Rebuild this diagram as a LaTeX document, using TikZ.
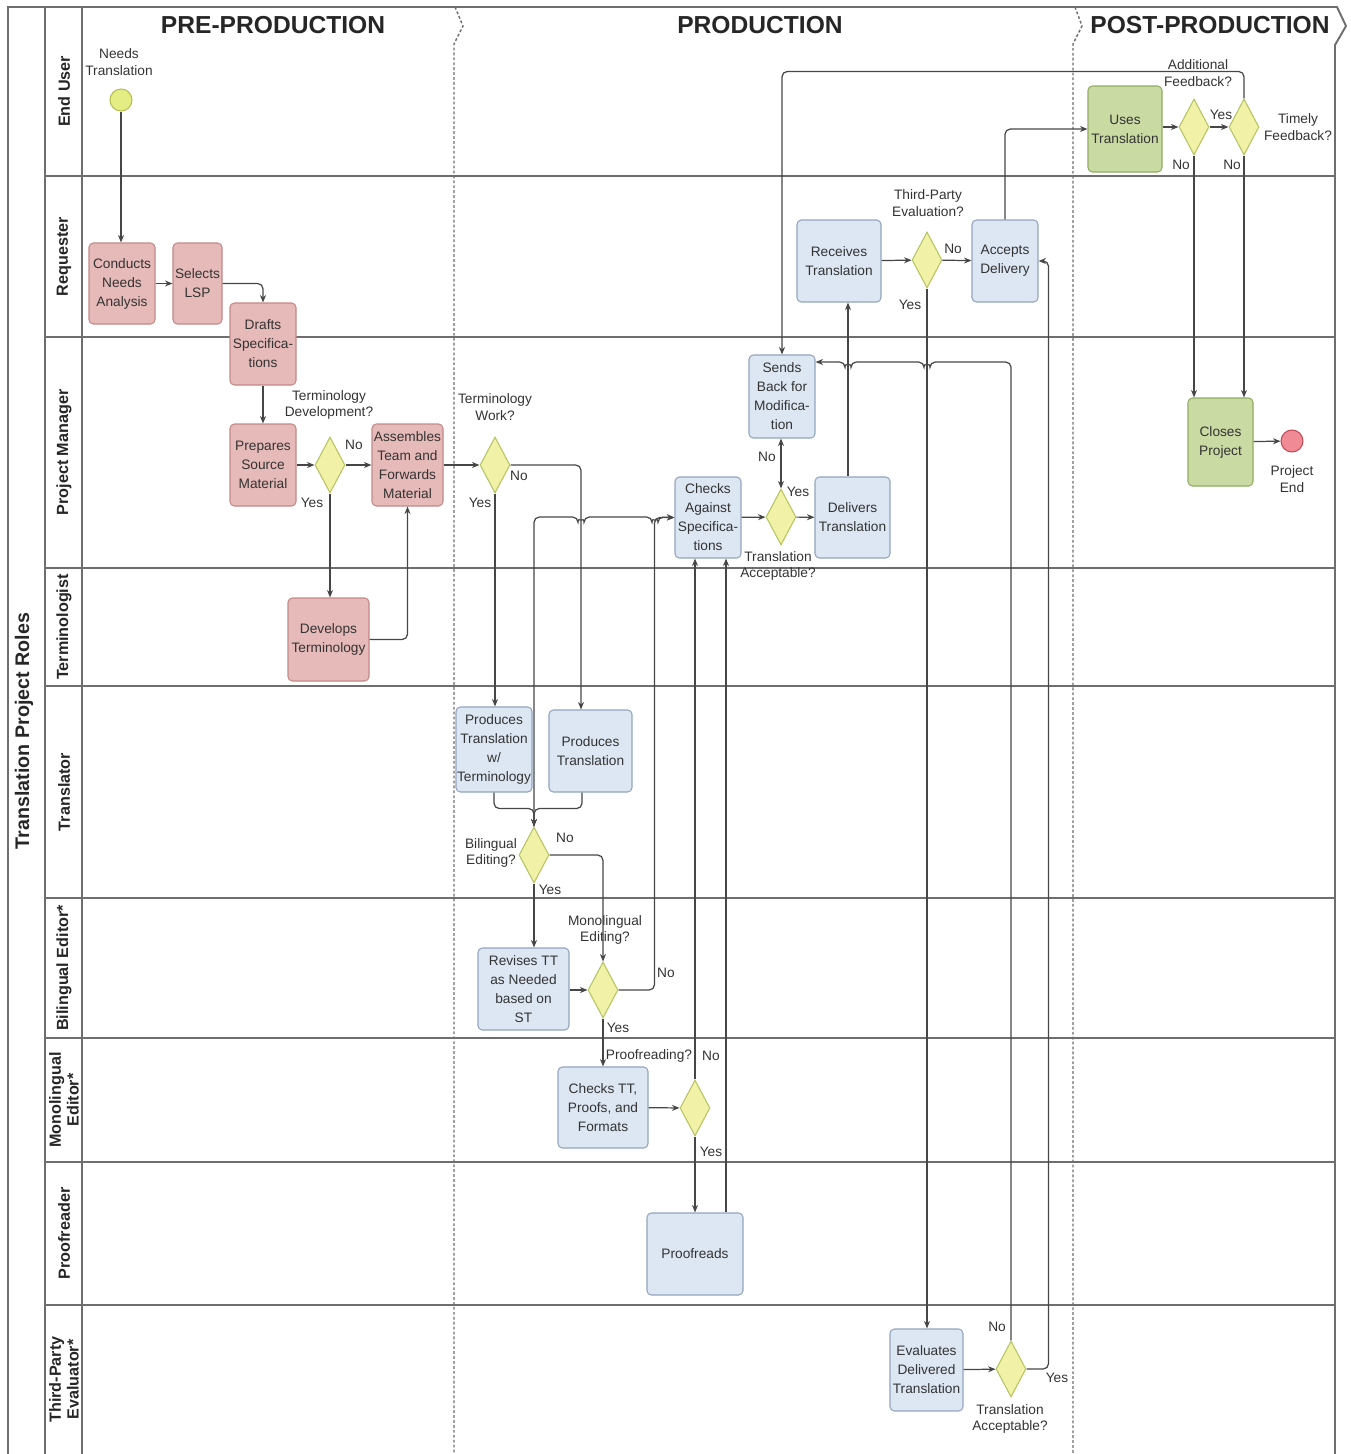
\documentclass[tikz,border=0pt]{standalone}
\usepackage{fontspec}
\setmainfont{Liberation Sans}
\usepackage{xcolor}
\usetikzlibrary{shapes.geometric,arrows.meta}
\definecolor{pinkfill}{RGB}{230,186,185}
\definecolor{pinkline}{RGB}{196,136,136}
\definecolor{bluefill}{RGB}{221,231,243}
\definecolor{blueline}{RGB}{146,164,188}
\definecolor{greenfill}{RGB}{202,218,163}
\definecolor{greenline}{RGB}{146,172,100}
\definecolor{decfill}{RGB}{241,241,168}
\definecolor{decline}{RGB}{182,196,96}
\definecolor{startfill}{RGB}{228,236,132}
\definecolor{startline}{RGB}{180,190,80}
\definecolor{endfill}{RGB}{240,138,148}
\definecolor{endline}{RGB}{192,76,90}
\definecolor{wire}{RGB}{70,70,70}
\definecolor{lanegray}{RGB}{110,110,110}
\tikzset{
  task/.style={draw, rounded corners=2.5pt, line width=0.6pt, align=center,
               inner sep=0.5pt, font=\fontsize{7.8}{10.8}\selectfont, text=black!80},
  prebox/.style={task, fill=pinkfill, draw=pinkline},
  prodbox/.style={task, fill=bluefill, draw=blueline},
  postbox/.style={task, fill=greenfill, draw=greenline},
  sz/.style 2 args={minimum width=#1*0.02cm, minimum height=#2*0.02cm},
  dec/.style={diamond, draw=decline, fill=decfill, line width=0.6pt, inner sep=0pt,
              minimum width=0.6cm, minimum height=1.12cm},
  event/.style={circle, line width=0.6pt, minimum size=0.44cm, inner sep=0pt},
  flow/.style={-{Stealth[length=1.5mm,width=1.2mm]}, draw=wire, line width=0.7pt,
               rounded corners=3pt},
  twoway/.style={flow, {Stealth[length=1.5mm,width=1.2mm]}-{Stealth[length=1.5mm,width=1.2mm]}},
  lbl/.style={font=\fontsize{7.8}{9.6}\selectfont, align=center, text=black!80, inner sep=0pt},
  phasehead/.style={font=\fontsize{14}{16}\selectfont\bfseries, text=black!85},
  rolelbl/.style={font=\fontsize{9.2}{10.2}\selectfont\bfseries, rotate=90, align=center,
                  text=black!85},
  laneline/.style={draw=lanegray, line width=1.1pt},
  phaseline/.style={draw=lanegray, line width=0.8pt, dash pattern=on 1.6pt off 1.2pt},
}

\begin{document}
\begin{tikzpicture}[x=0.02cm, y=-0.02cm]
  \useasboundingbox (0,0) rectangle (1350,1454);

  % Pool frame and lanes
  \draw[laneline] (8,1454) -- (8,7) -- (1337,7) -- (1346,26) -- (1335,45) -- (1335,1454);
  \draw[laneline] (45,7) -- (45,1454);
  \draw[laneline] (82,7) -- (82,1454);
  \foreach \y in {176,337,568,686,898,1038,1162,1305}
    \draw[laneline] (45,\y) -- (1335,\y);

  % Phase separators
  \draw[phaseline] (455,7) -- (463,26) -- (454,44) -- (454,1454);
  \draw[phaseline] (1075,7) -- (1082,26) -- (1073,44) -- (1073,1454);

  \node[phasehead] (hpre)  at (273,25)  {PRE-PRODUCTION};
  \node[phasehead] (hprod) at (760,25)  {PRODUCTION};
  \node[phasehead] (hpost) at (1210,25) {POST-PRODUCTION};

  % Roles
  \node[rolelbl, font=\fontsize{11.2}{12}\selectfont\bfseries] (roles) at (24,731) {Translation Project Roles};
  \node[rolelbl] (rend)  at (64,91.5)  {End User};
  \node[rolelbl] (rreq)  at (64,256.5) {Requester};
  \node[rolelbl] (rpm)   at (64,452.5) {Project Manager};
  \node[rolelbl] (rterm) at (64,627)   {Terminologist};
  \node[rolelbl] (rtra)  at (64,792)   {Translator};
  \node[rolelbl] (rbil)  at (64,968)   {Bilingual Editor*};
  \node[rolelbl] (rmon)  at (64,1100)  {Monolingual\\Editor*};
  \node[rolelbl] (rprf)  at (64,1233.5){Proofreader};
  \node[rolelbl] (reva)  at (64,1379.5){Third-Party\\Evaluator*};

  % Pre-production
  \node[event, draw=startline, fill=startfill] (start) at (121,100) {};
  \node[lbl] (startlbl) at (119,62) {Needs\\Translation};
  \node[prebox, sz={66}{81}] (cna) at (122,283.5)   {Conducts\\Needs\\Analysis};
  \node[prebox, sz={49}{81}] (lsp) at (197.5,283.5) {Selects\\LSP};
  \node[prebox, sz={66}{82}] (dsp) at (263,344)     {Drafts\\Specifica-\\tions};
  \node[prebox, sz={66}{82}] (psm) at (263,465)     {Prepares\\Source\\Material};
  \node[dec] (tdq) at (330,465) {};
  \node[lbl] (tdqlbl) at (329,405) {Terminology\\Development?};
  \node[prebox, sz={71}{82}] (atf) at (407.5,465)   {Assembles\\Team and\\Forwards\\Material};
  \node[prebox, sz={81}{83}] (dvt) at (328.5,639.5) {Develops\\Terminology};

  % Production
  \node[dec] (twq) at (495,465) {};
  \node[lbl] (twqlbl) at (495,407) {Terminology\\Work?};
  \node[prodbox, sz={76}{85}] (ptt) at (494,749.5)  {Produces\\Translation\\w/\\Terminology};
  \node[prodbox, sz={83}{82}] (ptr) at (590.5,751)  {Produces\\Translation};
  \node[dec] (beq) at (534,855) {};
  \node[lbl] (beqlbl) at (491,853) {Bilingual\\Editing?};
  \node[prodbox, sz={91}{82}] (rtt) at (523.5,989)  {Revises TT\\as Needed\\based on\\ST};
  \node[dec] (meq) at (603,990) {};
  \node[lbl] (meqlbl) at (605,930) {Monolingual\\Editing?};
  \node[prodbox, sz={90}{81}] (ctp) at (603,1107.5) {Checks TT,\\Proofs, and\\Formats};
  \node[dec] (prq) at (695,1108) {};
  \node[lbl] (prqlbl) at (649,1056) {Proofreading?};
  \node[prodbox, sz={96}{82}] (prf) at (695,1254)   {Proofreads};
  \node[prodbox, sz={66}{81}] (cas) at (708,517.5)  {Checks\\Against\\Specifica-\\tions};
  \node[dec] (taq) at (781,517) {};
  \node[lbl] (taqlbl) at (778,566) {Translation\\Acceptable?};
  \node[prodbox, sz={75}{81}] (dlt) at (852.5,517.5) {Delivers\\Translation};
  \node[prodbox, sz={66}{83}] (sbm) at (782,396.5)  {Sends\\Back for\\Modifica-\\tion};
  \node[prodbox, sz={84}{82}] (rct) at (839,261)    {Receives\\Translation};
  \node[dec] (tpq) at (927,260) {};
  \node[lbl] (tpqlbl) at (928,203) {Third-Party\\Evaluation?};
  \node[prodbox, sz={66}{82}] (acd) at (1005,261)   {Accepts\\Delivery};
  \node[prodbox, sz={73}{82}] (edt) at (926.5,1370) {Evaluates\\Delivered\\Translation};
  \node[dec] (tpa) at (1011,1369) {};
  \node[lbl] (tpalbl) at (1010,1419) {Translation\\Acceptable?};

  % Post-production
  \node[postbox, sz={74}{86}] (ust) at (1125,129)   {Uses\\Translation};
  \node[dec] (afq) at (1194,127) {};
  \node[lbl] (afqlbl) at (1198,73) {Additional\\Feedback?};
  \node[dec] (tfq) at (1244,127) {};
  \node[lbl] (tfqlbl) at (1298,127) {Timely\\Feedback?};
  \node[postbox, sz={65}{88}] (clp) at (1220.5,442) {Closes\\Project};
  \node[event, draw=endline, fill=endfill] (fin) at (1292,441) {};
  \node[lbl] (finlbl) at (1292,479) {Project\\End};

  % Yes / No
  \node[lbl] (l1)  at (354,445)  {No};
  \node[lbl] (l2)  at (312,503)  {Yes};
  \node[lbl] (l3)  at (519,476)  {No};
  \node[lbl] (l4)  at (480,503)  {Yes};
  \node[lbl] (l5)  at (565,838)  {No};
  \node[lbl] (l6)  at (550,890)  {Yes};
  \node[lbl] (l7)  at (666,973)  {No};
  \node[lbl] (l8)  at (618,1028) {Yes};
  \node[lbl] (l9)  at (711,1056) {No};
  \node[lbl] (l10) at (711,1152) {Yes};
  \node[lbl] (l11) at (798,492)  {Yes};
  \node[lbl] (l12) at (767,457)  {No};
  \node[lbl] (l13) at (953,249)  {No};
  \node[lbl] (l14) at (910,305)  {Yes};
  \node[lbl] (l15) at (997,1327) {No};
  \node[lbl] (l16) at (1057,1378){Yes};
  \node[lbl] (l17) at (1221,115) {Yes};
  \node[lbl] (l18) at (1181,165) {No};
  \node[lbl] (l19) at (1232,165) {No};

  % Flows, pre-production
  \draw[flow] (start.south) -- (start.south |- cna.north);
  \draw[flow] (cna) -- (lsp);
  \draw[flow] (lsp.east) -| (dsp.north);
  \draw[flow] (dsp) -- (psm);
  \draw[flow] (psm) -- (tdq);
  \draw[flow] (tdq) -- (atf);
  \draw[flow] (tdq.south) -- (tdq.south |- dvt.north);
  \draw[flow] (dvt.east) -| (atf.south);
  \draw[flow] (atf) -- (twq);

  % Flows, translation and editing
  \draw[flow] (twq.east) -| ([xshift=-0.19cm]ptr.north);
  \draw[flow] (twq.south) -- (twq.south |- ptt.north);
  \draw[flow] (ptt.south) -- ++(0,16) -| (beq.north);
  \draw[flow] ([xshift=-0.17cm]ptr.south) -- ++(0,16) -| (beq.north);
  \draw[flow] (beq.north) -- (534,517) -- (578,517)
    arc[start angle=180, end angle=360, radius=0.06cm] -- (652,517)
    arc[start angle=180, end angle=360, radius=0.06cm] -- (cas.west);
  \draw[flow] (beq.south) -- (beq.south |- rtt.north);
  \draw[flow] (beq.east) -| (meq.north);
  \draw[flow] (rtt.east |- meq) -- (meq.west);
  \draw[flow] (meq.east) -| ([xshift=-0.4cm]cas.west) -- (cas.west);
  \draw[flow] (meq) -- (ctp);
  \draw[flow] (ctp) -- (prq);
  \draw[flow] (prq) -- (prf);
  \draw[flow] (prq.north) -- (prq.north |- cas.south);
  \draw[flow] ([xshift=0.62cm]prf.north) -- ([xshift=0.62cm]prf.north |- cas.south);

  % Flows, checking and delivery
  \draw[flow] (cas) -- (taq);
  \draw[flow] (taq) -- (dlt);
  \draw[twoway] (taq.north) -- (taq.north |- sbm.south);
  \draw[flow] ([xshift=-0.09cm]dlt.north) -- ([xshift=-0.09cm]dlt.north |- rct.south);
  \draw[flow] (rct) -- (tpq);
  \draw[flow] (tpq) -- (acd);
  \draw[flow] (tpq.south) -- (tpq.south |- edt.north);
  \draw[flow] (edt) -- (tpa);
  \draw[flow] (tpa.north) -- (1011,362) -- (930,362)
    arc[start angle=0, end angle=-180, radius=0.06cm] -- (851,362)
    arc[start angle=0, end angle=-180, radius=0.06cm] -- ([yshift=0.69cm]sbm.east);
  \draw[flow] (tpa.east) -| ([xshift=0.2cm]acd.east) -- (acd.east);

  % Flows, post-production
  \draw[flow] (acd.north) |- (ust.west);
  \draw[flow] (ust.east |- afq) -- (afq.west);
  \draw[flow] (afq) -- (tfq);
  \draw[flow] (afq.south) -- (afq.south |- clp.north);
  \draw[flow] (tfq.south) -- (tfq.south |- clp.north);
  \draw[flow] (tfq.north) -- ++(0,-27) -| (sbm.north);
  \draw[flow] (clp) -- (fin);

\end{tikzpicture}
\end{document}
